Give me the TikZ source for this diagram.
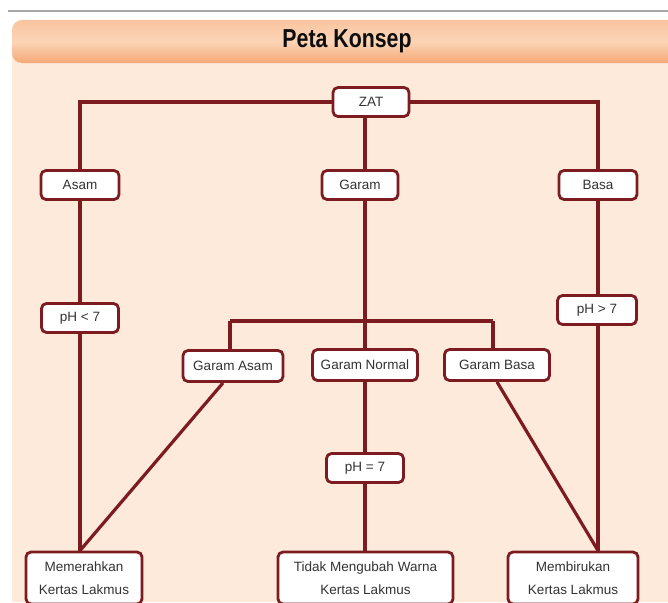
\documentclass[tikz,border=0pt]{standalone}
\usepackage{fontspec}
\setmainfont{Liberation Sans}
\usetikzlibrary{calc}
\definecolor{linec}{RGB}{125,28,32}
\definecolor{peach}{RGB}{253,234,218}
\definecolor{hdrtop}{RGB}{249,196,160}
\definecolor{hdrmid}{RGB}{251,213,183}
\definecolor{hdrbot}{RGB}{245,168,118}
\pgfdeclarelayer{bg}
\pgfdeclarelayer{lines}
\pgfsetlayers{bg,lines,main}
\tikzset{
  box/.style={draw=linec, line width=2.8pt, rounded corners=5pt, fill=white,
    font=\fontsize{13.5}{15}\selectfont, text=black!80, inner sep=0pt, minimum height=29pt},
  tallbox/.style={box, minimum height=52pt, align=center, font=\fontsize{13.5}{22.5}\selectfont},
  conn/.style={draw=linec, line width=3.2pt}
}
\begin{document}
\begin{tikzpicture}[x=1pt,y=-1pt]
\useasboundingbox (0,0) rectangle (668,602);
\begin{pgfonlayer}{bg}
  \fill[white] (0,0) rectangle (668,602);
  \draw[gray!70, line width=2pt] (8,11) -- (668,11);
  \fill[peach] (12,40) rectangle (668,602);
  \shade[top color=hdrtop, bottom color=hdrbot, middle color=hdrmid, rounded corners=10pt]
    (12,20) rectangle (690,63);
\end{pgfonlayer}
\node[font=\fontsize{26}{28}\selectfont\bfseries, text=black!95] (title) at (347,41) {\scalebox{0.82}[1]{Peta Konsep}};

\node[box, minimum width=76pt] (zat) at (371,102) {ZAT};
\node[box, minimum width=78pt] (asam) at (80,185) {Asam};
\node[box, minimum width=76pt] (garam) at (360,185) {Garam};
\node[box, minimum width=78pt] (basa) at (598,185) {Basa};
\node[box, minimum width=77pt] (pha) at (80,318) {pH < 7};
\node[box, minimum width=79pt] (phb) at (597,310) {pH > 7};
\node[box, minimum width=100pt, minimum height=31pt] (ga) at (233,366) {Garam Asam};
\node[box, minimum width=105pt, minimum height=31pt] (gn) at (365,365) {Garam Normal};
\node[box, minimum width=105pt, minimum height=31pt] (gb) at (497,365) {Garam Basa};
\node[box, minimum width=77pt] (phn) at (365,468) {pH = 7};
\node[tallbox, minimum width=116pt] (merah) at (84,578) {Memerahkan\\Kertas Lakmus};
\node[tallbox, minimum width=175pt] (tidak) at (365.5,578) {Tidak Mengubah Warna\\Kertas Lakmus};
\node[tallbox, minimum width=130pt] (biru) at (573,578) {Membirukan\\Kertas Lakmus};

\coordinate (jl) at (230,321);
\coordinate (jr) at (493,321);

\begin{pgfonlayer}{lines}
  \draw[conn] (asam.north) |- (zat.west);
  \draw[conn] (basa.north) |- (zat.east);
  \draw[conn] (zat.south -| gn.north) -- (gn.north);
  \draw[conn] (jl) -- (jr);
  \draw[conn] (jl) -- (jl |- ga.north);
  \draw[conn] (jr) -- (jr |- gb.north);
  \draw[conn] (asam.south) -- (asam.south |- merah.north);
  \draw[conn] (basa.south) -- (basa.south |- biru.north);
  \draw[conn] (gn.south) -- (gn.south |- tidak.north);
  \draw[conn] ($(ga.south)+(-10,0)$) -- (asam.south |- merah.north);
  \draw[conn] (gb.south) -- (basa.south |- biru.north);
\end{pgfonlayer}
\end{tikzpicture}
\end{document}
